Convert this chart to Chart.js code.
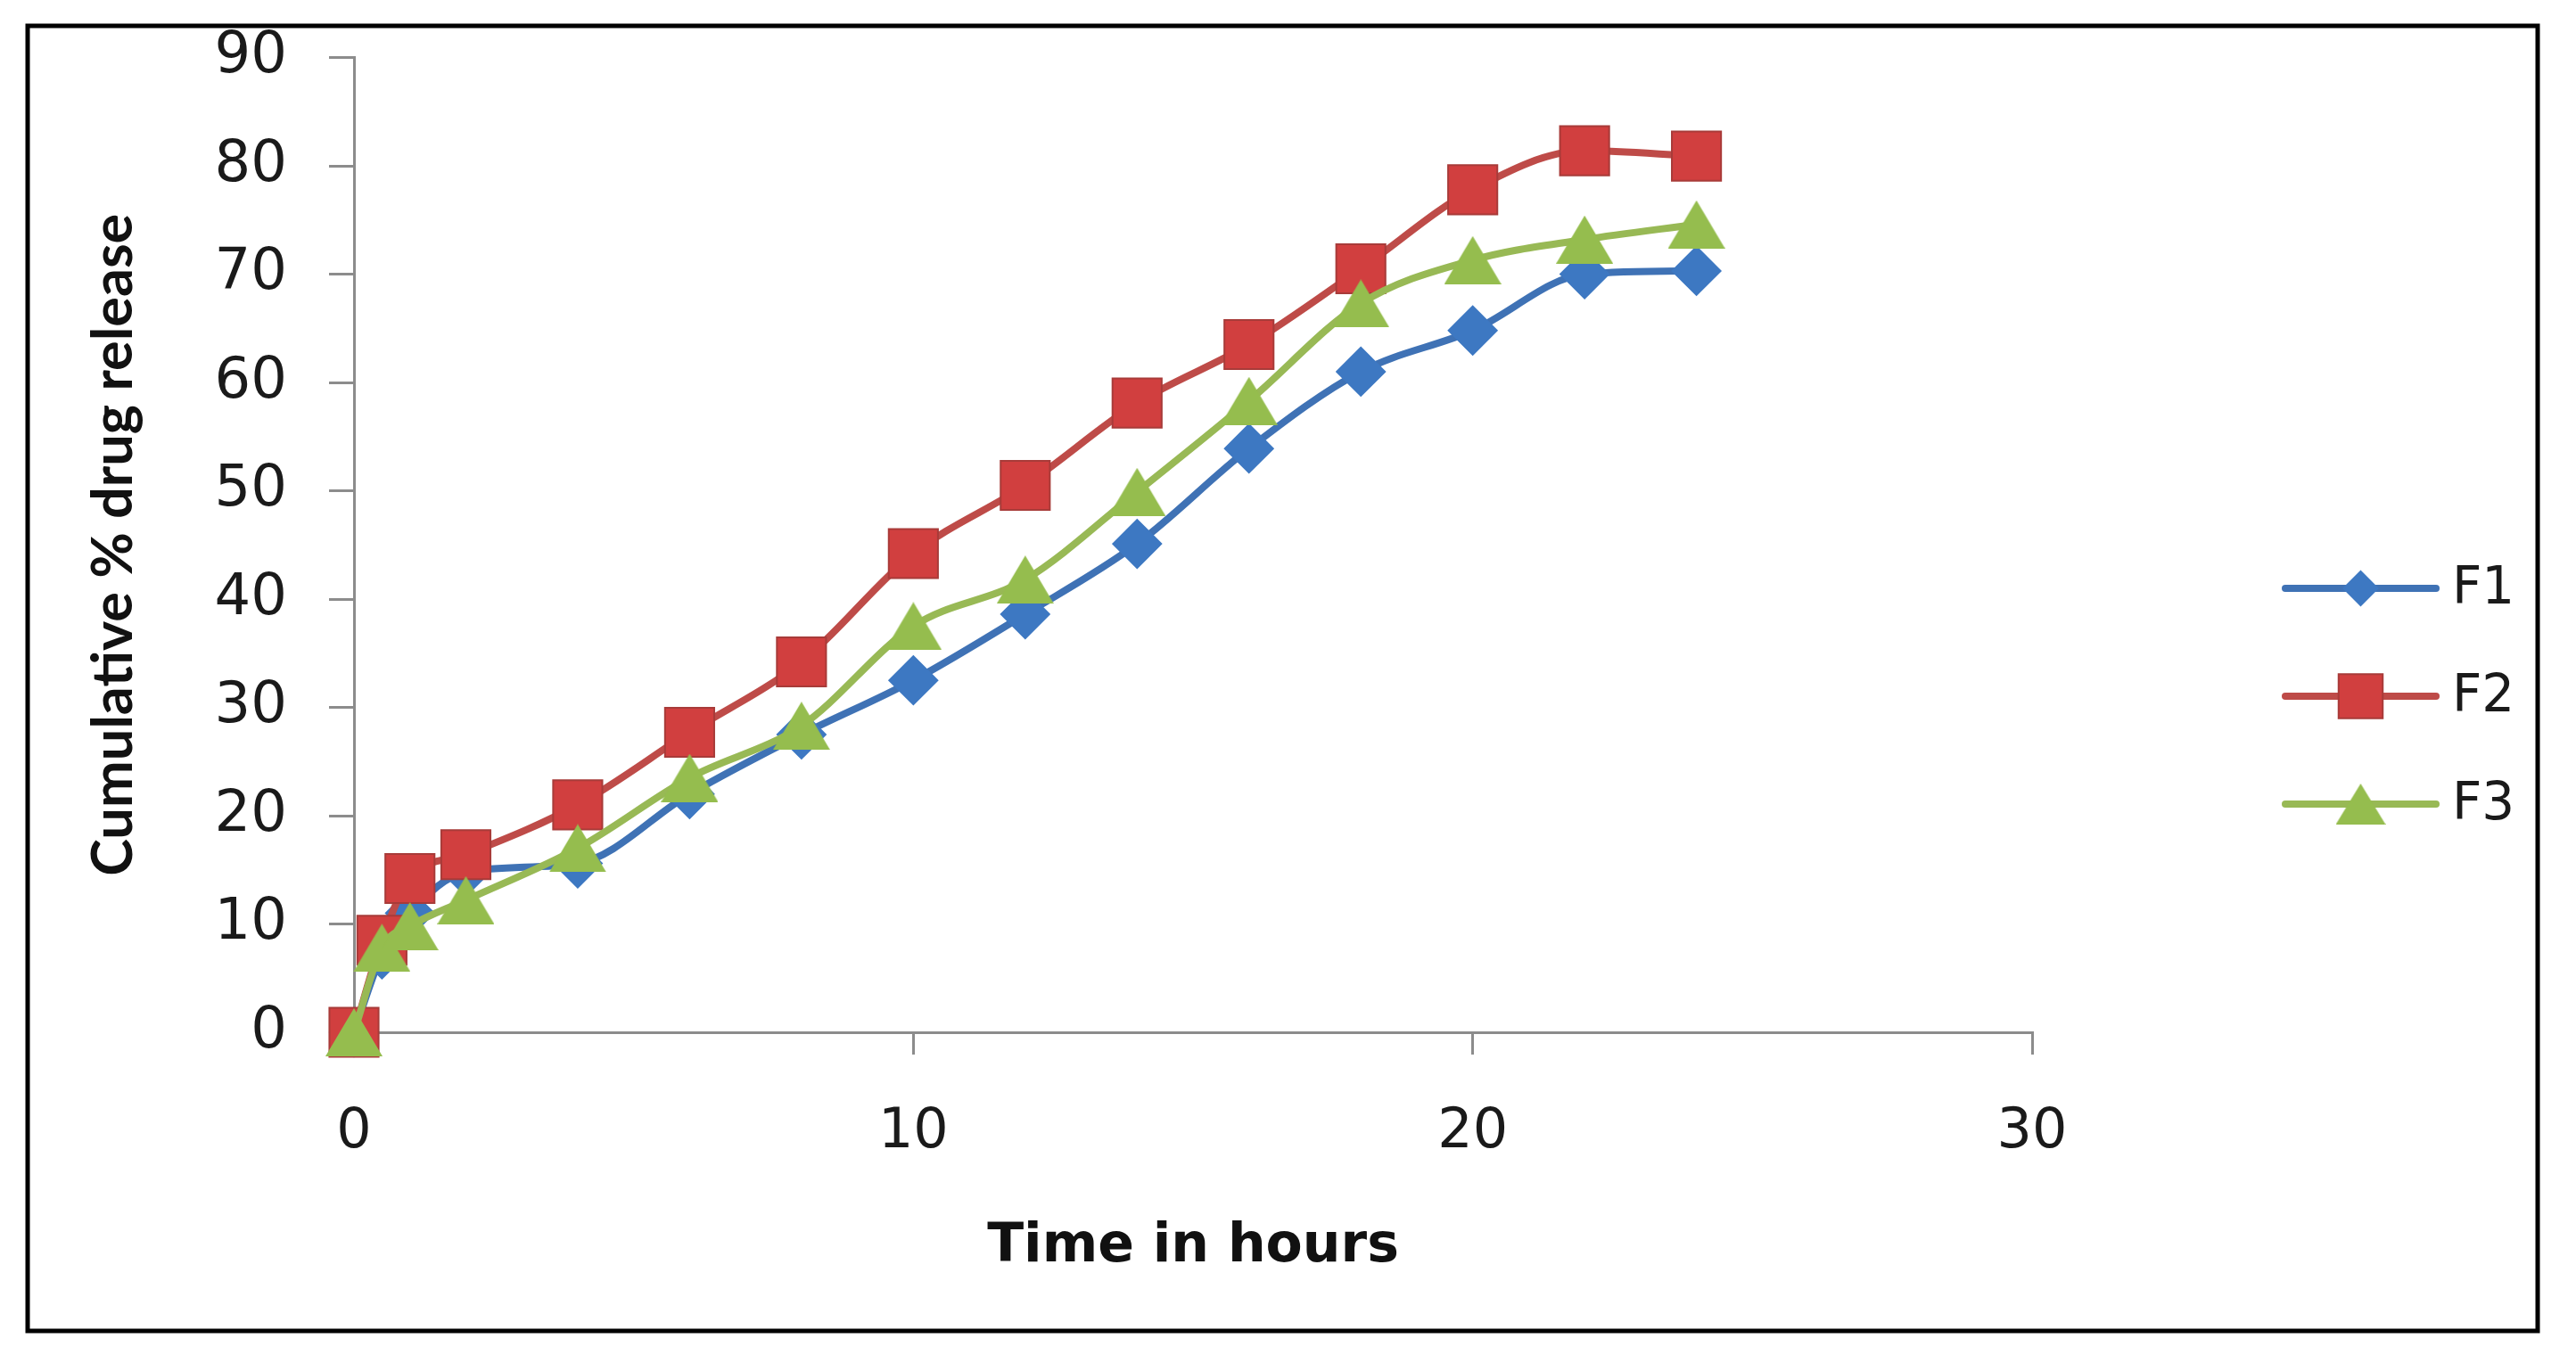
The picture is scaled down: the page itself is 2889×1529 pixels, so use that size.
<!DOCTYPE html>
<html>
<head>
<meta charset="utf-8">
<script src="https://cdn.jsdelivr.net/npm/chart.js@4.4.1/dist/chart.umd.min.js"></script>
<style>
  html, body { margin: 0; padding: 0; background: #ffffff; }
  #c { display: block; }
</style>
</head>
<body>
<canvas id="c" width="2889" height="1529"></canvas>
<script>
// ---- data ----
const times = [0, 0.5, 1, 2, 4, 6, 8, 10, 12, 14, 16, 18, 20, 22, 24];
const seriesNames = ['F1', 'F2', 'F3'];
const f1 = [0, 7.2, 11, 14.8, 15.6, 22, 27.5, 32.5, 38.6, 45.1, 53.9, 61, 64.8, 70, 70.3];
const f2 = [0, 8.5, 14.2, 16.4, 21, 27.7, 34.2, 44.2, 50.5, 58.1, 63.5, 70.5, 77.8, 81.4, 80.9];
const f3 = [0, 7.8, 9.8, 12.2, 17, 23.5, 28.3, 37.5, 41.8, 49.9, 58.3, 67.3, 71.3, 73.2, 74.6];
const xTicks = [0, 10, 20, 30];
const yTicks = [0, 10, 20, 30, 40, 50, 60, 70, 80, 90];
const xTitle = 'Time in hours';
const yTitle = 'Cumulative % drug release';

function pts(vals) { return vals.map((v, i) => ({ x: times[i], y: v })); }

// triangle marker centred on its bounding box (as in the original spreadsheet chart)
function triangleMarker(w, h, color) {
  const cv = document.createElement('canvas');
  cv.width = w; cv.height = h;
  const c = cv.getContext('2d');
  c.fillStyle = color;
  c.beginPath();
  c.moveTo(w / 2, 0);
  c.lineTo(w, h);
  c.lineTo(0, h);
  c.closePath();
  c.fill();
  return cv;
}

const greenFill = '#95BD4E';
const styles = [
  { line: '#3F72B5', fill: '#3D78C2', border: '#3D78C2', style: 'rectRot', legendStyle: 'rectRot', r: 27, lr: 19 },
  { line: '#BE4B48', fill: '#D13F3F', border: '#A83B39', style: 'rect', legendStyle: 'rect', r: 39, lr: 35 },
  { line: '#98B955', fill: greenFill, border: greenFill, style: triangleMarker(64, 54, greenFill), legendStyle: triangleMarker(56, 46, greenFill), r: 32, lr: 28 }
];
const values = [f1, f2, f3];

const datasets = seriesNames.map((name, i) => ({
  label: name,
  data: pts(values[i]),
  borderColor: styles[i].line,
  backgroundColor: styles[i].fill,
  borderWidth: 8,
  pointStyle: styles[i].style,
  pointRadius: styles[i].r,
  pointHoverRadius: styles[i].r,
  pointBackgroundColor: styles[i].fill,
  pointBorderColor: styles[i].border,
  pointBorderWidth: 2,
  cubicInterpolationMode: 'monotone',
  clip: false,
  order: 3 - i
}));

const frame = {
  id: 'frame',
  beforeDraw(chart) {
    const ctx = chart.ctx;
    ctx.save();
    ctx.fillStyle = '#ffffff';
    ctx.fillRect(0, 0, chart.width, chart.height);
    ctx.strokeStyle = '#000000';
    ctx.lineWidth = 5;
    ctx.strokeRect(31, 29, 2815, 1464);
    ctx.restore();
  }
};

const lineLegend = {
  id: 'lineLegend',
  afterDraw(chart) {
    const ctx = chart.ctx;
    const x0 = 2563, x1 = 2732, rowY = 660, gap = 121;
    chart.data.datasets.forEach((ds, i) => {
      const y = rowY + i * gap;
      ctx.save();
      ctx.strokeStyle = ds.borderColor;
      ctx.lineWidth = 8;
      ctx.lineCap = 'round';
      ctx.beginPath();
      ctx.moveTo(x0, y);
      ctx.lineTo(x1, y);
      ctx.stroke();
      ctx.fillStyle = ds.pointBackgroundColor;
      ctx.strokeStyle = ds.pointBorderColor;
      ctx.lineWidth = 2;
      Chart.helpers.drawPoint(ctx, { pointStyle: styles[i].legendStyle, radius: styles[i].lr, rotation: 0, borderWidth: 2 }, (x0 + x1) / 2, y);
      ctx.fillStyle = '#1a1a1a';
      ctx.font = '58px "DejaVu Sans"';
      ctx.textAlign = 'left';
      ctx.textBaseline = 'middle';
      ctx.fillText(ds.label, 2750, y + 2);
      ctx.restore();
    });
  }
};

new Chart(document.getElementById('c'), {
  type: 'line',
  data: { datasets },
  plugins: [frame, lineLegend],
  options: {
    responsive: false,
    devicePixelRatio: 1,
    animation: false,
    layout: { autoPadding: false, padding: { left: 90, top: 43, right: 610, bottom: 94 } },
    plugins: { legend: { display: false }, tooltip: { enabled: false } },
    scales: {
      x: {
        type: 'linear',
        min: 0, max: 30,
        afterBuildTicks(scale) { scale.ticks = xTicks.map(v => ({ value: v })); },
        afterFit(scale) { scale.height = 277; },
        grid: { display: true, drawOnChartArea: false, drawTicks: true, tickLength: 25, color: '#8c8c8c', lineWidth: 3 },
        border: { display: true, color: '#8c8c8c', width: 3 },
        ticks: { padding: 51, color: '#1a1a1a', font: { family: '"DejaVu Sans"', size: 62 }, maxRotation: 0 },
        title: { display: true, text: xTitle, color: '#111111', padding: 0, font: { family: '"DejaVu Sans"', size: 60, weight: 'bold' } }
      },
      y: {
        type: 'linear',
        min: 0, max: 90,
        afterBuildTicks(scale) { scale.ticks = yTicks.map(v => ({ value: v })); },
        afterFit(scale) { scale.width = 307; },
        grid: { display: true, drawOnChartArea: false, drawTicks: true, tickLength: 28, color: '#8c8c8c', lineWidth: 3 },
        border: { display: true, color: '#8c8c8c', width: 3 },
        ticks: { padding: 47, color: '#1a1a1a', font: { family: '"DejaVu Sans"', size: 64, lineHeight: 0.55 } },
        title: { display: true, text: yTitle, color: '#111111', padding: 0, font: { family: '"Lato", sans-serif', size: 63, weight: 'bold' } }
      }
    }
  }
});
</script>
</body>
</html>
